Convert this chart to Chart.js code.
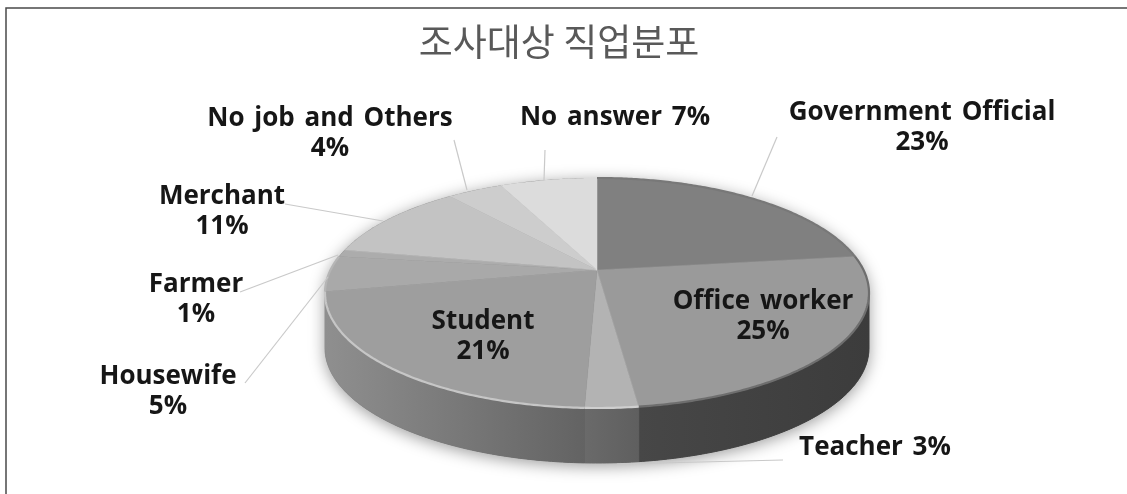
<!DOCTYPE html>
<html lang="ko">
<head>
    <meta charset="UTF-8">
    <title>조사대상 직업분포</title>
    <script src="https://cdn.jsdelivr.net/npm/chart.js"></script>
    <style>
        html, body { margin: 0; padding: 0; background: #fff; }
        canvas { display: block; }
    </style>
</head>
<body>
    <canvas id="grafico" width="1127" height="494"></canvas>

    <script>
        // data
        const titleText = '조사대상 직업분포';
        const jobs = ['Government Official', 'Office worker', 'Teacher', 'Student', 'Housewife', 'Farmer', 'Merchant', 'No job and Others', 'No answer'];
        const shares = [23, 25, 2.6, 21.4, 5, 1, 11, 4, 7];

        // styles
        const topColors = ['#808080', '#9a9a9a', '#b3b3b3', '#9e9e9e', '#a9a9a9', '#acacac', '#c3c3c3', '#cdcdcd', '#dcdcdc'];
        const wallColors = [null, ['#474747', '#3c3c3c'], ['#6a6a6a', '#5f5f5f'], ['#8f8f8f', '#636363'], ['#8f8f8f', '#8f8f8f'], null, null, null, null];
        const rimColors = ['#787878', '#6e6e6e', '#cfcfcf', '#c6c6c6', '#b5b5b5', null, null, null, null];

        // pie as seen in perspective, slices meet above the middle of the ellipse
        const pie = { cx: 597, cy: 270, a: 266.5, c: 110.4, k: 0.2, depth: 55 };
        const frontStart = Math.PI / 2 + Math.asin(pie.k);
        const frontEnd = 3 * Math.PI / 2 - Math.asin(pie.k);

        // t is measured clockwise from the top
        function project(t, drop) {
            const u = Math.sin(t), v = -Math.cos(t), w = 1 - pie.k * v;
            return { x: pie.cx + pie.a * u / w, y: pie.cy + pie.c * v / w + (drop || 0) };
        }

        function traceArc(ctx, from, to, drop) {
            const n = Math.max(2, Math.ceil(Math.abs(to - from) * 90));
            for (let i = 0; i <= n; i++) {
                const p = project(from + (to - from) * i / n, drop);
                ctx.lineTo(p.x, p.y);
            }
        }

        const pie3d = {
            id: 'pie3d',
            beforeDatasetsDraw(chart) {
                const ctx = chart.ctx;
                const arcs = chart.getDatasetMeta(0).data;
                const spans = arcs.map(a => [a.startAngle + Math.PI / 2, a.endAngle + Math.PI / 2]);

                // soft shadow below the whole body
                ctx.save();
                ctx.shadowColor = 'rgba(0,0,0,0.4)';
                ctx.shadowBlur = 16;
                ctx.shadowOffsetY = 3;
                ctx.fillStyle = '#555';
                ctx.beginPath();
                traceArc(ctx, frontStart, frontEnd, pie.depth);
                traceArc(ctx, frontEnd, frontStart + 2 * Math.PI, 0);
                ctx.closePath();
                ctx.fill();
                ctx.restore();

                // front wall
                spans.forEach((s, i) => {
                    const from = Math.max(s[0], frontStart), to = Math.min(s[1], frontEnd);
                    if (to <= from || !wallColors[i]) return;
                    const p0 = project(from), p1 = project(to);
                    const g = ctx.createLinearGradient(p1.x, 0, p0.x, 0);
                    g.addColorStop(0, wallColors[i][0]);
                    g.addColorStop(1, wallColors[i][1]);
                    ctx.fillStyle = g;
                    ctx.strokeStyle = g;
                    ctx.beginPath();
                    traceArc(ctx, from, to, 0);
                    traceArc(ctx, to, from, pie.depth);
                    ctx.closePath();
                    ctx.fill();
                    ctx.stroke();
                });

                // top face
                spans.forEach((s, i) => {
                    ctx.fillStyle = topColors[i];
                    ctx.strokeStyle = topColors[i];
                    ctx.lineWidth = 0.5;
                    ctx.beginPath();
                    ctx.moveTo(pie.cx, pie.cy);
                    traceArc(ctx, s[0], s[1], 0);
                    ctx.closePath();
                    ctx.fill();
                    ctx.stroke();
                });

                // bevel along the rim
                spans.forEach((s, i) => {
                    if (!rimColors[i]) return;
                    ctx.strokeStyle = rimColors[i];
                    ctx.lineWidth = 2.2;
                    ctx.beginPath();
                    traceArc(ctx, s[0], s[1], 0);
                    ctx.stroke();
                });
                return false;
            }
        };

        // chart text and leader lines
        const labelFont = '700 26px "Open Sans"';
        const labelSpots = [
            { x: 922, y: 113, two: true }, { x: 763, y: 302, two: true }, { x: 875, y: 448 },
            { x: 483, y: 322, two: true }, { x: 168, y: 377, two: true }, { x: 196, y: 285, two: true },
            { x: 222, y: 197, two: true }, { x: 330, y: 119, two: true }, { x: 615, y: 118 }
        ];
        const leaders = [
            [[777, 137], [752, 196]],
            [[783, 460], [617, 464]],
            [[245, 383], [328, 277]],
            [[240, 292], [338, 255]],
            [[285, 204], [383, 221]],
            [[454, 140], [467, 190]],
            [[545, 150], [544, 180]]
        ];

        // datasets draw is cancelled by pie3d, so this hangs on afterDraw
        const pieLabels = {
            id: 'pieLabels',
            afterDraw(chart) {
                const ctx = chart.ctx;
                ctx.save();
                ctx.strokeStyle = '#c9c9c9';
                ctx.lineWidth = 1.2;
                leaders.forEach(l => {
                    ctx.beginPath();
                    ctx.moveTo(l[0][0], l[0][1]);
                    ctx.lineTo(l[1][0], l[1][1]);
                    ctx.stroke();
                });
                ctx.font = labelFont;
                ctx.wordSpacing = '3px';
                ctx.fillStyle = '#161616';
                ctx.textAlign = 'center';
                ctx.textBaseline = 'middle';
                jobs.forEach((job, i) => {
                    const spot = labelSpots[i], pct = Math.round(shares[i]) + '%';
                    if (spot.two) {
                        ctx.fillText(job, spot.x, spot.y);
                        ctx.fillText(pct, spot.x, spot.y + 30);
                    } else {
                        ctx.fillText(job + ' ' + pct, spot.x, spot.y);
                    }
                });
                ctx.restore();
            }
        };

        const frame = {
            id: 'frame',
            beforeDraw(chart) {
                const ctx = chart.ctx;
                ctx.save();
                ctx.fillStyle = '#fff';
                ctx.fillRect(0, 0, chart.width, chart.height);
                ctx.strokeStyle = '#4a4a4a';
                ctx.lineWidth = 1.5;
                ctx.beginPath();
                ctx.moveTo(6, chart.height);
                ctx.lineTo(6, 8);
                ctx.lineTo(chart.width, 8);
                ctx.stroke();
                ctx.restore();
            }
        };

        new Chart(document.getElementById('grafico'), {
            type: 'pie',
            data: {
                labels: jobs,
                datasets: [{ data: shares, backgroundColor: topColors, borderWidth: 0 }]
            },
            plugins: [frame, pie3d, pieLabels],
            options: {
                responsive: false,
                animation: false,
                layout: { padding: { right: 9 } },
                plugins: {
                    legend: { display: false },
                    tooltip: { enabled: false },
                    title: {
                        display: true,
                        text: titleText,
                        color: '#595959',
                        font: { family: '"Noto Sans CJK KR"', size: 37, weight: 'normal' },
                        padding: { top: 20, bottom: 10 }
                    }
                }
            }
        });
    </script>
</body>
</html>
